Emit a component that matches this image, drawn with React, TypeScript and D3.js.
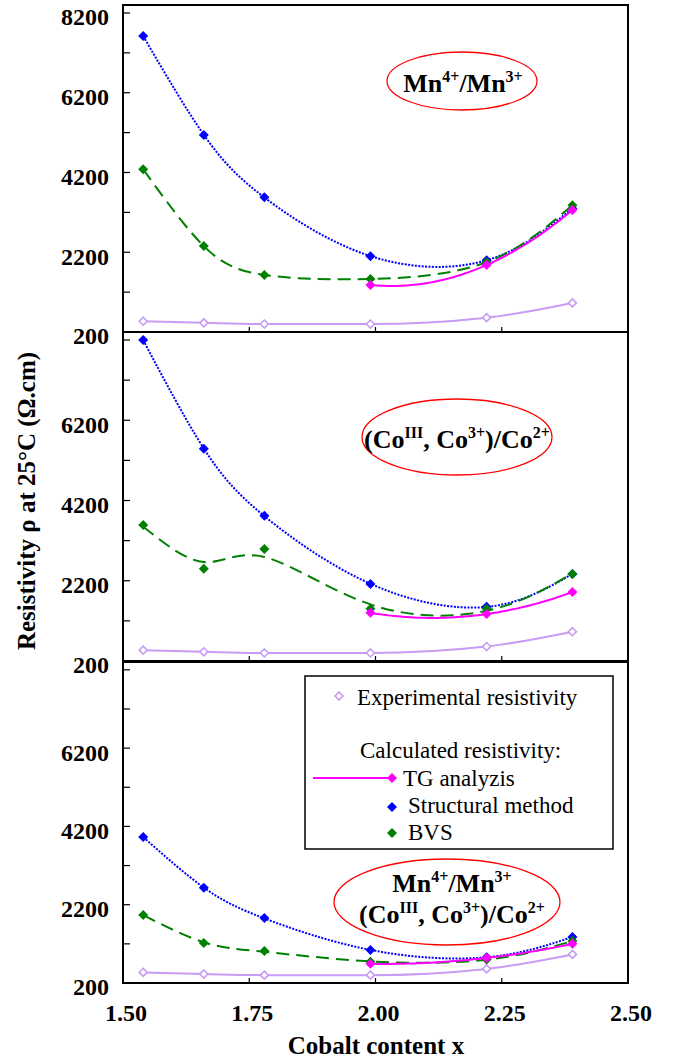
import React from 'react';
import * as d3 from 'd3';

// ---------- data ----------
const xValues = [1.54, 1.66, 1.78, 1.99, 2.22, 2.39];
const tgXValues = [1.99, 2.22, 2.39];
const experimental = [470, 430, 400, 400, 560, 930];

// Panel 1: Mn4+/Mn3+
const p1Structural = [7620, 5140, 3580, 2100, 2000, 3300];
const p1Bvs = [4280, 2355, 1630, 1530, 1950, 3380];
const p1Tg = [1380, 1880, 3260];
// Panel 2: (CoIII, Co3+)/Co2+
const p2Structural = [8200, 5490, 3820, 2120, 1550, 2370];
const p2Bvs = [3590, 2500, 2990, 1500, 1500, 2370];
const p2Tg = [1400, 1370, 1920];
// Panel 3: both
const p3Structural = [3930, 2630, 1860, 1040, 860, 1375];
const p3Bvs = [1940, 1220, 1020, 740, 800, 1270];
const p3Tg = [690, 840, 1200];

const xTicks = [1.5, 1.75, 2.0, 2.25, 2.5];
const xTickLabels = ['1.50', '1.75', '2.00', '2.25', '2.50'];
const yMajorTicks = [200, 2200, 4200, 6200, 8200];
const yMinorTicks = [1200, 3200, 5200, 7200];

const legendLabels = ['Experimental resistivity', 'Calculated resistivity:', 'TG analyzis', 'Structural method', 'BVS'];

// ---------- styles ----------
const W = 675, H = 1062;
const LEFT = 123, RIGHT = 628;
const FONT = '"Liberation Serif", "Times New Roman", serif';
const C_EXP = '#c89bf5';
const C_BLUE = '#0000ff';
const C_GREEN = '#008000';
const C_MAG = '#ff00ff';

const x = d3.scaleLinear().domain([1.5, 2.5]).range([LEFT, RIGHT]);

function polyFit(xs: number[], ys: number[], deg: number): number[] {
  const n = deg + 1;
  const A: number[][] = Array.from({ length: n }, () => Array(n + 1).fill(0));
  xs.forEach((xv, i) => {
    const xc = xv - 2;
    for (let r = 0; r < n; r++) {
      for (let c = 0; c < n; c++) A[r][c] += Math.pow(xc, r + c);
      A[r][n] += ys[i] * Math.pow(xc, r);
    }
  });
  for (let i = 0; i < n; i++) {
    let p = i;
    for (let k = i + 1; k < n; k++) if (Math.abs(A[k][i]) > Math.abs(A[p][i])) p = k;
    [A[i], A[p]] = [A[p], A[i]];
    for (let k = i + 1; k < n; k++) {
      const f = A[k][i] / A[i][i];
      for (let c = i; c <= n; c++) A[k][c] -= f * A[i][c];
    }
  }
  const coef = Array(n).fill(0);
  for (let i = n - 1; i >= 0; i--) {
    let s = A[i][n];
    for (let c = i + 1; c < n; c++) s -= A[i][c] * coef[c];
    coef[i] = s / A[i][i];
  }
  return coef;
}

const evalPoly = (coef: number[], xv: number) =>
  coef.reduce((s, c, k) => s + c * Math.pow(xv - 2, k), 0);

// smoothed trend knots: blend of data and least-squares quartic, drawn with a natural spline
function trendKnots(xs: number[], ys: number[], smooth: number): [number, number][] {
  const c4 = polyFit(xs, ys, 4);
  return xs.map((xv, i) => [xv, smooth * evalPoly(c4, xv) + (1 - smooth) * ys[i]]);
}

function quadCurve(xs: number[], ys: number[]): [number, number][] {
  const coef = polyFit(xs, ys, 2);
  const x0 = xs[0], x1 = xs[xs.length - 1];
  return d3.range(0, 61).map((i) => {
    const xv = x0 + ((x1 - x0) * i) / 60;
    return [xv, evalPoly(coef, xv)];
  });
}

const diamond = (cx: number, cy: number, r: number) =>
  `M${cx},${cy - r}L${cx + r},${cy}L${cx},${cy + r}L${cx - r},${cy}Z`;

type PanelProps = {
  top: number;
  bottom: number;
  structural: number[];
  bvs: number[];
  tg: number[];
  labels: number[];
};

function Panel({ top, bottom, structural, bvs, tg, labels }: PanelProps) {
  const y = d3.scaleLinear().domain([200, 8400]).range([bottom, top]);
  const line = d3.line<[number, number]>().x((d) => x(d[0])).y((d) => y(d[1]));
  const spline = d3
    .line<[number, number]>()
    .x((d) => x(d[0]))
    .y((d) => y(d[1]))
    .curve(d3.curveNatural);
  const expLine = d3
    .line<number>()
    .x((_, i) => x(xValues[i]))
    .y((d) => y(d))
    .curve(d3.curveMonotoneX);
  const blueKnots = trendKnots(xValues, structural, 0.4);
  const greenKnots = trendKnots(xValues, bvs, 0.4);
  const magCurve = quadCurve(tgXValues, tg);
  return (
    <g>
      {[...yMajorTicks, ...yMinorTicks].map((t) => (
        <line key={'yt' + t} x1={LEFT} x2={LEFT + 7} y1={y(t)} y2={y(t)} stroke="#000" strokeWidth={1.2} />
      ))}
      {labels.map((t) => (
        <text
          key={'yl' + t}
          x={109}
          y={y(t) + 4}
          dy="0.35em"
          textAnchor="end"
          fontFamily={FONT}
          fontWeight="bold"
          fontSize={24}
        >
          {t}
        </text>
      ))}
      {xTicks.slice(1, -1).map((t) => (
        <line key={'xt' + t} x1={x(t)} x2={x(t)} y1={bottom} y2={bottom - 5} stroke="#000" strokeWidth={1.2} />
      ))}
      <path d={expLine(experimental) || ''} fill="none" stroke={C_EXP} strokeWidth={2} />
      {experimental.map((v, i) => (
        <path key={'e' + i} d={diamond(x(xValues[i]), y(v), 4)} fill="#fff" stroke={C_EXP} strokeWidth={1.6} />
      ))}
      <path d={spline(blueKnots) || ''} fill="none" stroke={C_BLUE} strokeWidth={2} strokeDasharray="2 1.4" />
      {structural.map((v, i) => (
        <path key={'b' + i} d={diamond(x(xValues[i]), y(v), 5)} fill={C_BLUE} />
      ))}
      <path d={spline(greenKnots) || ''} fill="none" stroke={C_GREEN} strokeWidth={2} strokeDasharray="13 7" />
      {bvs.map((v, i) => (
        <path key={'g' + i} d={diamond(x(xValues[i]), y(v), 5)} fill={C_GREEN} />
      ))}
      <path d={line(magCurve) || ''} fill="none" stroke={C_MAG} strokeWidth={2} />
      {tg.map((v, i) => (
        <path key={'m' + i} d={diamond(x(tgXValues[i]), y(v), 5)} fill={C_MAG} />
      ))}
      <rect x={LEFT} y={top} width={RIGHT - LEFT} height={bottom - top} fill="none" stroke="#000" strokeWidth={2} />
    </g>
  );
}

function MnLabel({ cx, baseline }: { cx: number; baseline: number }) {
  return (
    <text x={cx} y={baseline} textAnchor="middle" fontFamily={FONT} fontWeight="bold" fontSize={26}>
      <tspan>Mn</tspan>
      <tspan fontSize={16} dy={-10}>4+</tspan>
      <tspan dy={10}>/Mn</tspan>
      <tspan fontSize={16} dy={-10}>3+</tspan>
    </text>
  );
}

function CoLabel({ cx, baseline }: { cx: number; baseline: number }) {
  return (
    <text x={cx} y={baseline} textAnchor="middle" fontFamily={FONT} fontWeight="bold" fontSize={26}>
      <tspan>(Co</tspan>
      <tspan fontSize={16} dy={-10}>III</tspan>
      <tspan dy={10}>, Co</tspan>
      <tspan fontSize={16} dy={-10}>3+</tspan>
      <tspan dy={10}>)/Co</tspan>
      <tspan fontSize={16} dy={-10}>2+</tspan>
    </text>
  );
}

export default function App() {
  const allLabels = yMajorTicks;
  const lowerLabels = yMajorTicks.slice(0, 4);
  return (
    <svg
      width={W}
      height={H}
      viewBox={`0 0 ${W} ${H}`}
      style={{ position: 'absolute', left: 0, top: 0, background: '#fff' }}
    >
      <rect x={0} y={0} width={W} height={H} fill="#fff" />
      <Panel top={5} bottom={332} structural={p1Structural} bvs={p1Bvs} tg={p1Tg} labels={allLabels} />
      <Panel top={332} bottom={661} structural={p2Structural} bvs={p2Bvs} tg={p2Tg} labels={lowerLabels} />
      <Panel top={662} bottom={983} structural={p3Structural} bvs={p3Bvs} tg={p3Tg} labels={lowerLabels} />

      <ellipse cx={462} cy={81} rx={75} ry={29} fill="none" stroke="#ff0000" strokeWidth={1.3} />
      <MnLabel cx={463} baseline={92} />

      <ellipse cx={457} cy={437} rx={95} ry={38} fill="none" stroke="#ff0000" strokeWidth={1.3} />
      <CoLabel cx={457} baseline={448} />

      <ellipse cx={447} cy={902} rx={113} ry={43} fill="none" stroke="#ff0000" strokeWidth={1.3} />
      <MnLabel cx={452} baseline={892} />
      <CoLabel cx={452} baseline={923} />

      <rect x={305} y={676} width={308} height={173} fill="#fff" stroke="#000" strokeWidth={1.5} />
      <path d={diamond(339, 696, 4)} fill="#fff" stroke={C_EXP} strokeWidth={1.6} />
      <text x={357} y={705} fontFamily={FONT} fontSize={23}>{legendLabels[0]}</text>
      <text x={360} y={758} fontFamily={FONT} fontSize={23}>{legendLabels[1]}</text>
      <line x1={313} x2={392} y1={778} y2={778} stroke={C_MAG} strokeWidth={2} />
      <path d={diamond(392, 778, 5)} fill={C_MAG} />
      <text x={403} y={786} fontFamily={FONT} fontSize={23}>{legendLabels[2]}</text>
      <path d={diamond(392, 807, 5)} fill={C_BLUE} />
      <text x={408} y={813} fontFamily={FONT} fontSize={23}>{legendLabels[3]}</text>
      <path d={diamond(392, 833, 5)} fill={C_GREEN} />
      <text x={408} y={840} fontFamily={FONT} fontSize={23}>{legendLabels[4]}</text>

      {xTicks.map((t, i) => (
        <text
          key={'xl' + t}
          x={x(t) + 3}
          y={1021}
          textAnchor="middle"
          fontFamily={FONT}
          fontWeight="bold"
          fontSize={24}
        >
          {xTickLabels[i]}
        </text>
      ))}

      <text x={376} y={1054} textAnchor="middle" fontFamily={FONT} fontWeight="bold" fontSize={25}>
        Cobalt content x
      </text>
      <text
        transform="translate(35,501) rotate(-90)"
        textAnchor="middle"
        fontFamily={FONT}
        fontWeight="bold"
        fontSize={25}
      >
        Resistivity ρ at 25°C (Ω.cm)
      </text>
    </svg>
  );
}
